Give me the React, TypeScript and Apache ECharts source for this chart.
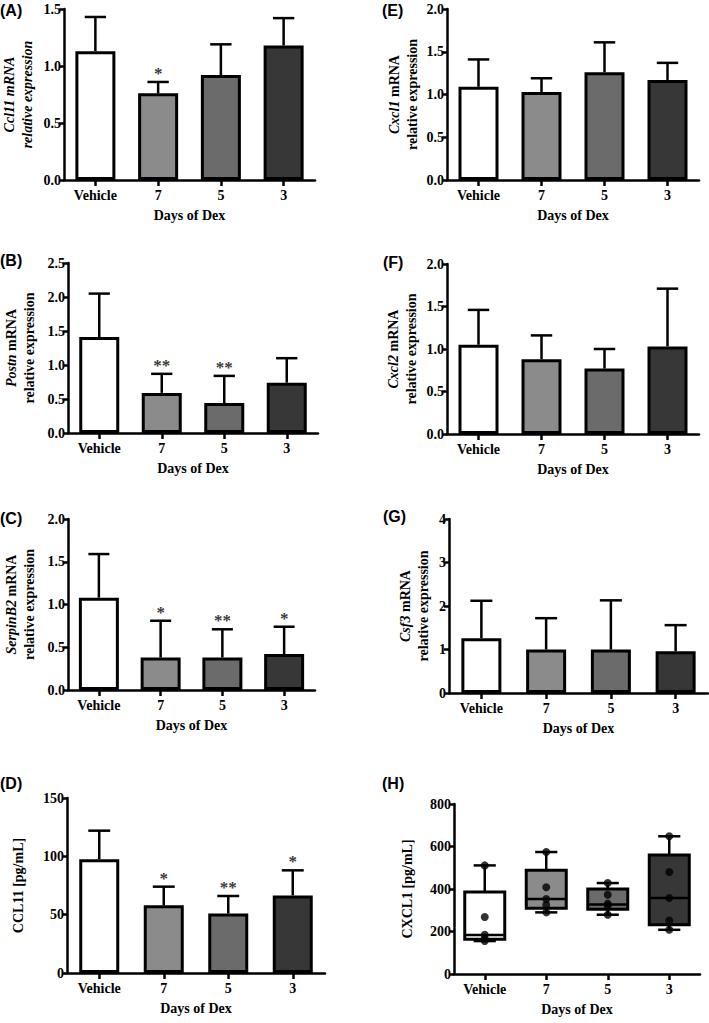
import React, { useEffect, useRef } from "react";
import * as echarts from "echarts";

// ---------- data ----------
const categories = ["Vehicle", "7", "5", "3"];
const fills = ["#ffffff", "#8b8b8b", "#6b6b6b", "#373737"];

// (A) Ccl11 mRNA
const ccl11Mean = [1.13, 0.76, 0.92, 1.18];
const ccl11Err = [1.43, 0.86, 1.19, 1.42];
const ccl11Sig = ["", "*", "", ""];
// (B) Postn mRNA
const postnMean = [1.41, 0.59, 0.44, 0.74];
const postnErr = [2.05, 0.87, 0.84, 1.1];
const postnSig = ["", "**", "**", ""];
// (C) SerpinB2 mRNA
const serpinMean = [1.08, 0.38, 0.38, 0.42];
const serpinErr = [1.59, 0.81, 0.71, 0.74];
const serpinSig = ["", "*", "**", "*"];
// (D) CCL11 protein
const ccl11pMean = [97.5, 58, 51, 66.5];
const ccl11pErr = [122, 74, 66, 88];
const ccl11pSig = ["", "*", "**", "*"];
// (E) Cxcl1 mRNA
const cxcl1Mean = [1.09, 1.03, 1.26, 1.17];
const cxcl1Err = [1.41, 1.19, 1.61, 1.37];
const cxcl1Sig = ["", "", "", ""];
// (F) Cxcl2 mRNA
const cxcl2Mean = [1.05, 0.88, 0.77, 1.03];
const cxcl2Err = [1.46, 1.16, 1.0, 1.71];
const cxcl2Sig = ["", "", "", ""];
// (G) Csf3 mRNA
const csf3Mean = [1.26, 1.0, 1.0, 0.96];
const csf3Err = [2.12, 1.72, 2.13, 1.56];
const csf3Sig = ["", "", "", ""];
// (H) CXCL1 protein box plot: [min, Q1, median, Q3, max]
const cxcl1Box = [
  [155, 163, 183, 386, 511],
  [290, 310, 353, 488, 574],
  [279, 305, 327, 400, 428],
  [208, 232, 358, 560, 648],
];
const cxcl1Points = [
  [511, 268, 185, 166, 155],
  [574, 408, 353, 326, 290],
  [428, 373, 331, 321, 279],
  [648, 480, 358, 252, 208],
];

// y-axis ranges / tick steps
const yMaxes = { A: 1.5, B: 2.5, C: 2.0, D: 150, E: 2.0, F: 2.0, G: 4, H: 800 };
const ySteps = { A: 0.5, B: 0.5, C: 0.5, D: 50, E: 0.5, F: 0.5, G: 1, H: 200 };

const SERIF = '"Liberation Serif", "Times New Roman", serif';
const SANS = '"Liberation Sans", Arial, sans-serif';
const FS = 14;

type BarPanel = {
  key: string;
  label: string;
  mean: number[];
  err: number[];
  sig: string[];
  yName: string;
  decimals: number;
  grid: { left: number; top: number; width: number; height: number };
  nameGap: number;
  labelPos: [number, number];
};

const barPanels: BarPanel[] = [
  { key: "A", label: "(A)", mean: ccl11Mean, err: ccl11Err, sig: ccl11Sig, yName: "{i|Ccl11 mRNA}\n{i|relative expression}", decimals: 1, grid: { left: 64, top: 9, width: 251, height: 171 }, nameGap: 28, labelPos: [0, 2] },
  { key: "B", label: "(B)", mean: postnMean, err: postnErr, sig: postnSig, yName: "{i|Postn} {n|mRNA}\n{n|relative expression}", decimals: 1, grid: { left: 68, top: 263, width: 250, height: 170 }, nameGap: 30, labelPos: [0, 252] },
  { key: "C", label: "(C)", mean: serpinMean, err: serpinErr, sig: serpinSig, yName: "{i|SerpinB2} {n|mRNA}\n{n|relative expression}", decimals: 1, grid: { left: 68, top: 519, width: 247, height: 171 }, nameGap: 30, labelPos: [0, 510] },
  { key: "D", label: "(D)", mean: ccl11pMean, err: ccl11pErr, sig: ccl11pSig, yName: "{n|CCL11 [pg/mL]}", decimals: 0, grid: { left: 67, top: 798, width: 258, height: 175 }, nameGap: 40, labelPos: [0, 775] },
  { key: "E", label: "(E)", mean: cxcl1Mean, err: cxcl1Err, sig: cxcl1Sig, yName: "{i|Cxcl1} {n|mRNA}\n{n|relative expression}", decimals: 1, grid: { left: 447, top: 9, width: 252, height: 171 }, nameGap: 26, labelPos: [382, 2] },
  { key: "F", label: "(F)", mean: cxcl2Mean, err: cxcl2Err, sig: cxcl2Sig, yName: "{i|Cxcl2} {n|mRNA}\n{n|relative expression}", decimals: 1, grid: { left: 447, top: 264, width: 252, height: 170 }, nameGap: 27, labelPos: [383, 254] },
  { key: "G", label: "(G)", mean: csf3Mean, err: csf3Err, sig: csf3Sig, yName: "{i|Csf3} {n|mRNA}\n{n|relative expression}", decimals: 0, grid: { left: 449, top: 519, width: 259, height: 174 }, nameGap: 17, labelPos: [383, 508] },
];

const boxPanel = {
  key: "H",
  label: "(H)",
  yName: "{n|CXCL1 [pg/mL]}",
  grid: { left: 454, top: 804, width: 246, height: 170 },
  nameGap: 38,
  labelPos: [382, 775] as [number, number],
};

const axisLineStyle = { color: "#000", width: 2.5 };
const tickLabelStyle = {
  color: "#000",
  fontFamily: SERIF,
  fontWeight: "bold" as const,
  fontSize: FS,
};
const richName = {
  i: { fontFamily: SERIF, fontWeight: "bold", fontStyle: "italic", fontSize: FS, lineHeight: 18, color: "#000" },
  n: { fontFamily: SERIF, fontWeight: "bold", fontSize: FS, lineHeight: 18, color: "#000" },
};

function makeXAxis(gridIndex: number) {
  return {
    type: "category",
    gridIndex,
    data: categories,
    boundaryGap: true,
    axisLine: { show: true, lineStyle: axisLineStyle },
    axisTick: { show: true, alignWithLabel: true, length: 6, lineStyle: axisLineStyle },
    axisLabel: { ...tickLabelStyle, margin: 8, interval: 0 },
    splitLine: { show: false },
    name: "Days of Dex",
    nameLocation: "middle",
    nameGap: 28,
    nameTextStyle: { ...tickLabelStyle },
  };
}

function makeYAxis(gridIndex: number, key: string, yName: string, nameGap: number, decimals: number) {
  return {
    type: "value",
    gridIndex,
    min: 0,
    max: (yMaxes as any)[key],
    interval: (ySteps as any)[key],
    axisLine: { show: true, lineStyle: axisLineStyle },
    axisTick: { show: true, length: 5, lineStyle: axisLineStyle },
    axisLabel: {
      ...tickLabelStyle,
      margin: 3,
      formatter: (v: number) => v.toFixed(decimals),
    },
    splitLine: { show: false },
    name: yName,
    nameLocation: "middle",
    nameGap,
    nameTextStyle: { ...tickLabelStyle, lineHeight: 18, rich: richName },
  };
}

export default function App() {
  const ref = useRef<HTMLDivElement>(null);

  useEffect(() => {
    document.body.style.margin = "0";
    if (!ref.current) return;
    const chart = echarts.init(ref.current, undefined, { renderer: "svg" });

    const grids: any[] = [];
    const xAxes: any[] = [];
    const yAxes: any[] = [];
    const series: any[] = [];
    const graphics: any[] = [];

    barPanels.forEach((p, gi) => {
      grids.push({ ...p.grid, outerBoundsMode: "none", containLabel: false });
      xAxes.push(makeXAxis(gi));
      yAxes.push(makeYAxis(gi, p.key, p.yName, p.nameGap, p.decimals));
      series.push({
        type: "bar",
        xAxisIndex: gi,
        yAxisIndex: gi,
        barWidth: 40,
        data: p.mean.map((v, i) => ({
          value: v,
          itemStyle: { color: fills[i], borderColor: "#000", borderWidth: 3 },
        })),
        z: 2,
      });
      series.push({
        type: "custom",
        xAxisIndex: gi,
        yAxisIndex: gi,
        z: 3,
        data: p.mean.map((v, i) => [i, v, p.err[i]]),
        renderItem: (params: any, api: any) => {
          const i = api.value(0);
          const p0 = api.coord([i, api.value(1)]);
          const p1 = api.coord([i, api.value(2)]);
          const hw = api.size([1, 0])[0] * 0.17;
          return {
            type: "group",
            children: [
              { type: "line", shape: { x1: p0[0], y1: p0[1], x2: p1[0], y2: p1[1] }, style: { stroke: "#000", lineWidth: 2.5 } },
              { type: "line", shape: { x1: p1[0] - hw, y1: p1[1], x2: p1[0] + hw, y2: p1[1] }, style: { stroke: "#000", lineWidth: 2.5 } },
            ],
          };
        },
      });
      const sig = p.sig;
      series.push({
        type: "scatter",
        xAxisIndex: gi,
        yAxisIndex: gi,
        z: 4,
        symbolSize: 0,
        itemStyle: { color: "transparent" },
        data: p.err.map((e, i) => [i, e]),
        label: {
          show: true,
          position: "top",
          distance: 0,
          color: "#000",
          fontFamily: SERIF,
          fontWeight: "bold",
          fontSize: 17,
          formatter: (prm: any) => sig[prm.dataIndex] || "",
        },
      });
      graphics.push({
        type: "text",
        left: p.labelPos[0],
        top: p.labelPos[1],
        style: { text: p.label, font: `bold 16px ${SANS}`, fill: "#000" },
      });
    });

    // box plot panel
    const hi = barPanels.length;
    grids.push({ ...boxPanel.grid, outerBoundsMode: "none", containLabel: false });
    xAxes.push(makeXAxis(hi));
    yAxes.push(makeYAxis(hi, boxPanel.key, boxPanel.yName, boxPanel.nameGap, 0));
    series.push({
      type: "custom",
      xAxisIndex: hi,
      yAxisIndex: hi,
      z: 2,
      data: cxcl1Box.map((b, i) => [i, ...b]),
      renderItem: (params: any, api: any) => {
        const i = api.value(0);
        const pMin = api.coord([i, api.value(1)]);
        const pQ1 = api.coord([i, api.value(2)]);
        const pMed = api.coord([i, api.value(3)]);
        const pQ3 = api.coord([i, api.value(4)]);
        const pMax = api.coord([i, api.value(5)]);
        const bw = api.size([1, 0])[0];
        const hb = 20;
        const hc = bw * 0.18;
        const x = pMed[0];
        const st = { stroke: "#000", lineWidth: 2.5 };
        return {
          type: "group",
          children: [
            { type: "line", shape: { x1: x, y1: pQ3[1], x2: x, y2: pMax[1] }, style: st },
            { type: "line", shape: { x1: x - hc, y1: pMax[1], x2: x + hc, y2: pMax[1] }, style: st },
            { type: "line", shape: { x1: x, y1: pQ1[1], x2: x, y2: pMin[1] }, style: st },
            { type: "line", shape: { x1: x - hc, y1: pMin[1], x2: x + hc, y2: pMin[1] }, style: st },
            {
              type: "rect",
              shape: { x: x - hb, y: pQ3[1], width: hb * 2, height: pQ1[1] - pQ3[1] },
              style: { fill: fills[params.dataIndex], stroke: "#000", lineWidth: 3 },
            },
            { type: "line", shape: { x1: x - hb, y1: pMed[1], x2: x + hb, y2: pMed[1] }, style: st },
          ],
        };
      },
    });
    const pts: number[][] = [];
    cxcl1Points.forEach((arr, i) => arr.forEach((v) => pts.push([i, v])));
    series.push({
      type: "scatter",
      xAxisIndex: hi,
      yAxisIndex: hi,
      z: 4,
      symbolSize: 8,
      itemStyle: { color: "#000" },
      data: pts,
    });
    graphics.push({
      type: "text",
      left: boxPanel.labelPos[0],
      top: boxPanel.labelPos[1],
      style: { text: boxPanel.label, font: `bold 16px ${SANS}`, fill: "#000" },
    });

    chart.setOption({
      animation: false,
      backgroundColor: "#ffffff",
      grid: grids,
      xAxis: xAxes,
      yAxis: yAxes,
      series,
      graphic: graphics,
    });

    return () => chart.dispose();
  }, []);

  return <div ref={ref} style={{ width: 709, height: 1023 }} />;
}
